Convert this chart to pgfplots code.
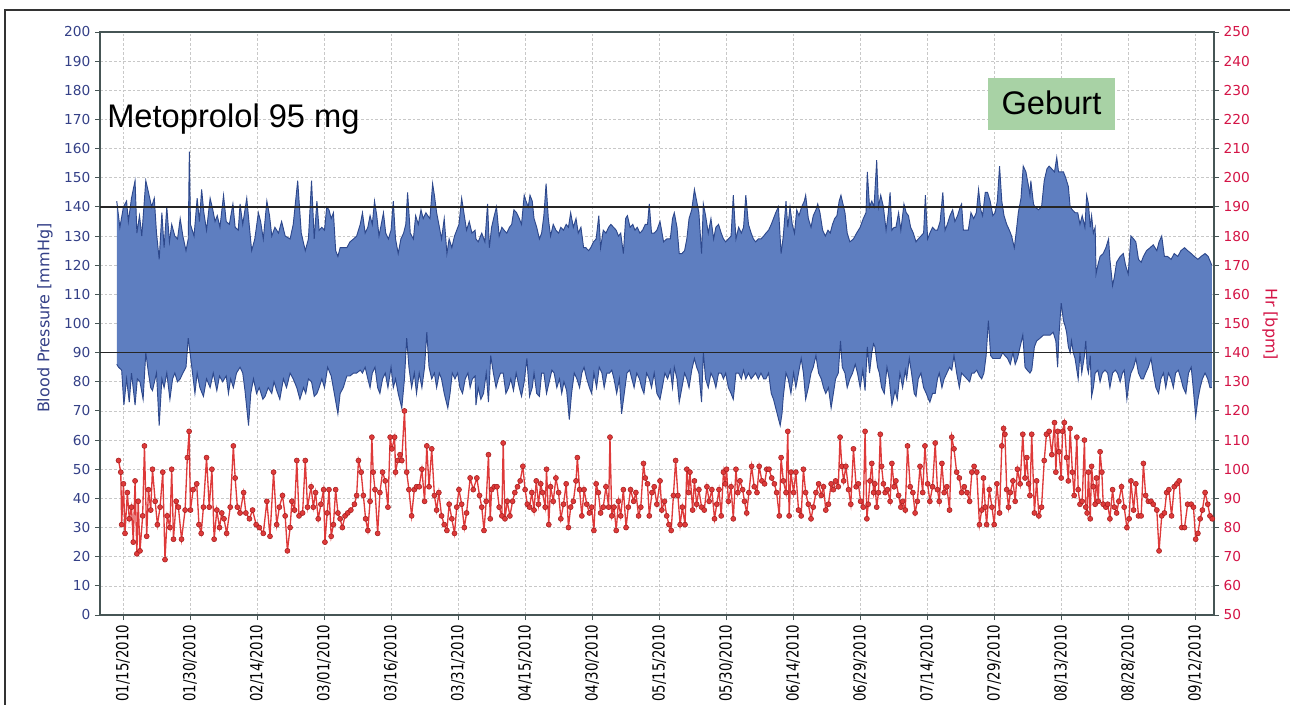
\documentclass[border=0pt]{standalone}
\usepackage{pgfplots}
\pgfplotsset{compat=1.18}
\usepgfplotslibrary{fillbetween}
\usepackage{fontspec}
\setmainfont{DejaVu Sans}
\newfontfamily\arialf{Liberation Sans}
\newfontfamily\xfont[FakeStretch=0.8]{DejaVu Sans}
\definecolor{bpfill}{RGB}{94,126,192}
\definecolor{bpline}{RGB}{45,72,140}
\definecolor{lefttick}{RGB}{52,64,135}
\definecolor{righttick}{RGB}{212,20,70}
\definecolor{hrred}{RGB}{222,58,58}
\definecolor{hrdark}{RGB}{165,30,30}
\definecolor{gridc}{RGB}{200,200,200}
\definecolor{axc}{RGB}{70,85,85}
\definecolor{geb}{RGB}{168,210,165}
\begin{document}
\begin{tikzpicture}
\begin{axis}[
 set layers,
 at={(75pt,66.75pt)}, anchor=south west,
 scale only axis, width=835.5pt, height=437.25pt,
 xmin=-5.15, xmax=244.2, ymin=0, ymax=200,
 xtick={0,15,...,240},
 xticklabels={01/15/2010,01/30/2010,02/14/2010,03/01/2010,03/16/2010,03/31/2010,04/15/2010,04/30/2010,05/15/2010,05/30/2010,06/14/2010,06/29/2010,07/14/2010,07/29/2010,08/13/2010,08/28/2010,09/12/2010},
 ytick={0,10,...,200},
 xtick pos=left, ytick pos=left,
 tick align=outside, major tick length=3.75pt,
 grid=major, major grid style={gridc, dash pattern=on 2pt off 1.5pt, line width=0.5pt},
 axis line style={axc, line width=0.9pt},
 tick style={axc, line width=0.7pt},
 /pgf/number format/assume math mode=true,
 yticklabel style={font=\fontsize{10.3}{12}\selectfont, text=lefttick},
 xticklabel style={font=\xfont\fontsize{12.5}{14}\selectfont, rotate=90, anchor=east, text=black},
 ylabel={Blood Pressure [mmHg]},
 every axis y label/.style={at={(axis description cs:-0.0494,0.509)}, rotate=90, anchor=center, font=\fontsize{12}{14}\selectfont, text=lefttick},
]
\addplot[name path=sys, bpline, line width=0.7pt] coordinates {
(-1.4,142) (-0.7,133) (0.1,140) (0.8,142) (1.2,135) (1.9,143) (2.7,149) (3.1,131) (3.7,137) (4.2,130) (5.1,149) (5.7,145) (6.4,140) (7.0,143) (7.5,131) (8.1,122) (8.7,138) (9.2,126) (9.8,140) (10.4,128) (10.9,134) (11.6,130) (12.2,129) (12.8,136) (13.4,130) (14.1,125) (14.6,129) (14.85,159) (15.1,134) (15.9,130) (16.6,143) (17.1,135) (17.6,146) (18.1,138) (18.7,132) (19.5,143) (20.1,139) (20.6,135) (21.1,137) (21.7,133) (22.5,144) (23.1,135) (23.8,134) (24.6,141) (25.1,133) (25.8,132) (26.2,141) (26.8,134) (27.7,143) (28.3,133) (28.8,125) (29.5,129) (30.3,138) (30.8,135) (31.4,129) (32.2,142) (32.8,137) (33.3,130) (34.0,133) (34.8,131) (35.5,135) (36.3,130) (37.4,129)
(38.1,134) (39.1,149) (39.9,131) (40.8,125) (41.5,129) (42.2,149) (42.8,129) (43.4,142) (43.9,132) (44.5,133) (45.1,132) (45.6,140) (46.1,139) (46.6,136) (47.1,138) (47.6,125) (48.1,123) (48.6,126) (49.3,126) (50.1,126) (50.8,128) (51.6,129) (52.3,130) (53.1,134) (53.6,138) (54.2,131) (54.8,133) (55.3,137) (55.8,134) (56.3,142) (56.8,137) (57.3,130) (57.8,134) (58.3,138) (58.8,131) (59.4,129) (60.0,132) (60.5,142) (61.0,129) (61.6,124) (62.2,129) (62.8,131) (63.3,134) (63.7,145) (64.3,131) (65.0,129) (65.5,137) (66.1,134) (66.7,139) (67.2,136) (67.8,138) (68.2,137) (68.7,136) (69.3,148) (69.7,144) (70.2,138) (70.7,134) (71.3,129) (71.9,136) (72.5,124) (73.0,129) (73.6,126) (74.2,130) (74.7,132) (75.2,134) (75.8,143) (76.4,137) (76.9,132) (77.5,135) (78.1,131) (78.8,132)
(79.0,129) (79.5,128) (80.3,131) (81.0,128) (81.6,141) (82.0,126) (82.5,133) (83.1,137) (83.6,140) (84.2,130) (84.8,133) (85.3,132) (85.9,131) (86.5,133) (87.0,134) (87.5,139) (88.1,138) (88.7,136) (89.2,134) (89.8,144) (90.2,142) (90.7,140) (91.1,144) (91.6,142) (92.0,136) (92.6,133) (93.2,129) (93.7,131) (94.2,137) (94.7,148) (95.2,136) (95.7,130) (96.3,134) (96.9,132) (97.5,131) (98.0,133) (98.6,132) (99.2,134) (99.7,133) (100.2,138) (100.8,133) (101.4,136) (101.9,131) (102.5,133) (103.1,126) (103.6,126) (104.2,125) (104.7,126) (105.3,128) (105.9,129) (106.5,137) (106.9,126) (107.5,132) (108.1,131) (108.7,133) (109.2,134) (109.8,133) (110.4,132) (110.9,130) (111.4,131) (112.0,124) (112.5,136) (112.9,137) (113.5,133) (114.1,134) (114.6,132) (115.1,133) (115.7,131) (116.3,132) (116.9,134) (117.4,134) (117.8,141) (118.3,131) (118.9,131) (119.5,132) (120.2,135)
(121.0,128) (121.7,129) (122.5,129) (123.0,136) (123.4,138) (124.0,133) (124.5,124) (125.1,124) (125.7,125) (126.2,129) (126.7,136) (127.3,139) (127.9,146) (128.4,142) (128.9,138) (129.5,124) (129.9,141) (130.4,137) (131.0,131) (131.6,136) (132.2,129) (132.7,133) (133.3,134) (133.9,131) (134.4,129) (134.9,128) (135.5,129) (136.1,130) (136.6,144) (137.2,129) (137.8,133) (138.4,131) (138.9,133) (139.4,144) (140.0,134) (140.6,131) (141.1,129) (141.6,128) (142.2,129) (142.8,129) (143.4,130) (143.9,131) (144.5,132) (145.1,134) (145.6,136) (146.1,138) (146.7,140) (147.3,124) (147.8,130) (148.4,142) (148.8,133) (149.3,140) (149.8,134) (150.3,131) (150.8,139) (151.3,137) (151.9,140) (152.5,142) (152.8,144) (153.4,136) (154.0,133) (154.5,137) (155.1,139) (155.5,141) (156.0,138) (156.6,132) (157.2,130) (157.8,132) (158.3,131) (158.8,134) (159.3,136) (159.8,137) (160.3,142) (160.7,144) (161.3,140) (161.6,138)
(162.1,131) (162.7,128) (163.5,129) (164.2,131) (165.0,133) (165.7,136) (166.3,138) (166.6,152) (167.1,140) (167.6,142) (168.1,140) (168.7,156) (169.1,140) (169.6,144) (170.2,140) (170.8,132) (171.3,138) (171.7,145) (172.1,132) (172.6,133) (173.0,133) (173.6,138) (174.1,132) (174.5,137) (174.8,141) (175.3,138) (175.8,137) (176.3,133) (176.9,131) (177.5,128) (178.0,129) (178.6,130) (179.2,131) (179.6,144) (180.1,129) (180.6,131) (181.2,133) (181.8,132) (182.3,132) (182.9,135) (183.5,145) (184.0,132) (184.5,134) (185.1,137) (185.7,139) (186.2,135) (186.8,137) (187.4,140) (187.7,141) (188.1,132) (188.7,132) (189.2,132) (189.8,138) (190.4,136) (191.0,138) (191.5,146) (192.0,139) (192.4,137) (193.0,145) (193.5,145) (194.1,142) (194.7,137) (195.2,138) (195.7,142) (196.2,154) (196.7,142) (197.2,137) (197.8,134) (198.4,132) (198.9,130) (199.5,126) (199.9,131) (200.4,138) (201.0,143) (201.5,154) (202.1,152) (202.7,147) (203.0,144)
(203.2,149) (203.8,141) (204.1,140) (204.9,139) (205.6,140) (206.2,149) (206.8,153) (207.3,154) (207.9,153) (208.5,152) (209.0,157) (209.4,152) (210.0,152) (210.5,152) (211.0,150) (211.6,147) (212.0,140) (212.5,139) (213.1,138) (213.7,138) (214.2,134) (214.7,137) (215.3,133) (215.7,144) (216.1,141) (216.5,133) (216.8,137) (217.2,131) (217.6,133) (217.8,117) (218.2,120) (218.7,123) (219.4,124) (220.0,126) (220.6,129) (220.9,122) (221.5,113) (221.9,116) (222.4,121) (223.2,123) (223.9,124) (224.4,120) (225.0,117) (225.6,130) (226.2,129) (226.7,128) (227.3,122) (227.9,121) (228.4,123) (229.1,125) (229.9,126) (230.6,127) (231.4,125) (231.9,128) (232.5,130) (233.1,123) (233.8,123) (234.6,122) (235.3,124) (236.1,123) (236.8,125) (237.6,126) (238.3,125) (239.1,124) (239.8,123) (240.6,122) (241.3,123) (242.2,124) (242.9,123) (243.7,120)
};
\addplot[name path=dia, bpline, line width=0.7pt] coordinates {
(-1.4,86) (-1.0,85) (-0.3,84) (0.2,72) (0.8,81) (1.4,73) (1.9,83) (2.7,72) (3.2,81) (3.8,80) (4.5,74) (5.1,90) (5.7,83) (6.2,78) (6.6,77) (7.5,83) (8.1,65) (8.7,81) (9.2,78) (9.8,83) (10.5,74) (11.1,81) (11.6,83) (12.2,80) (12.8,81) (13.4,83) (14.1,85) (14.6,95) (15.4,85) (16.1,76) (16.6,83) (17.2,78) (18.0,75) (18.7,81) (19.5,78) (20.2,83) (21.0,77) (21.6,82) (22.3,80) (23.1,82) (23.6,76) (24.1,81) (24.7,78) (25.4,83) (26.2,85) (26.8,83) (27.3,77) (28.1,65) (28.6,76) (29.2,81) (29.9,76) (30.5,78) (31.3,74) (31.8,75) (32.5,78) (33.3,76) (33.8,80) (34.4,77) (35.1,74) (35.9,81) (36.6,78) (37.4,83)
(38.1,81) (38.9,78) (39.6,74) (40.4,78) (40.9,76) (41.5,81) (42.2,80) (42.8,75) (43.4,76) (43.9,78) (44.5,81) (45.1,78) (45.8,85) (46.6,82) (47.3,76) (48.1,69) (48.6,76) (49.3,78) (50.1,82) (50.8,82) (51.6,83) (52.3,83) (53.1,84) (53.6,83) (54.2,85) (54.8,81) (55.3,78) (55.8,83) (56.4,85) (57.0,78) (57.5,76) (58.1,81) (58.7,83) (59.3,78) (60.0,85) (60.5,78) (61.0,81) (61.6,76) (62.4,71) (63.0,81) (63.5,95) (64.0,85) (64.6,78) (65.2,83) (65.7,76) (66.3,83) (66.9,78) (67.5,85) (68.0,97) (68.5,85) (69.1,81) (69.7,83) (70.2,78) (70.8,83) (71.3,81) (71.9,76) (72.7,71) (73.2,76) (73.7,83) (74.3,81) (74.9,83) (75.4,78) (76.0,76) (76.6,81) (77.2,83) (77.7,78) (78.2,81) (78.8,82)
(79.0,72) (79.5,78) (80.1,74) (80.7,76) (81.3,83) (81.8,73) (82.3,89) (82.9,83) (83.5,78) (84.0,81) (84.5,83) (85.1,83) (85.7,76) (86.3,78) (86.8,81) (87.4,77) (88.0,83) (88.7,78) (89.2,75) (89.8,80) (90.4,88) (91.0,75) (91.6,78) (92.0,83) (92.6,76) (93.2,75) (93.7,83) (94.2,83) (94.8,76) (95.4,80) (96.0,84) (96.5,83) (97.1,78) (97.7,81) (98.2,76) (98.7,80) (99.3,77) (99.9,67) (100.4,76) (101.0,83) (101.6,81) (102.2,78) (102.7,83) (103.2,85) (103.8,81) (104.4,78) (104.9,76) (105.4,83) (106.0,78) (106.6,85) (107.2,83) (107.7,78) (108.3,83) (108.9,83) (109.4,84) (109.9,81) (110.5,76) (111.1,81) (111.6,69) (112.2,76) (112.8,83) (113.4,84) (113.9,81) (114.4,78) (115.0,83) (115.6,81) (116.1,78) (116.6,76) (117.2,83) (117.8,81) (118.3,78) (118.9,83) (119.5,76) (120.2,74)
(120.7,78) (121.3,83) (121.9,81) (122.5,84) (123.0,78) (123.4,85) (124.0,81) (124.5,73) (125.1,78) (125.7,83) (126.2,81) (126.7,78) (127.3,84) (127.9,88) (128.4,85) (128.9,83) (129.5,73) (129.9,90) (130.4,81) (131.0,78) (131.6,83) (132.2,81) (132.7,78) (133.3,83) (133.9,83) (134.4,81) (134.9,83) (135.5,78) (136.1,76) (136.6,74) (137.2,83) (137.8,83) (138.4,81) (138.9,84) (139.4,81) (140.0,83) (140.6,81) (141.1,82) (141.6,83) (142.2,81) (142.8,83) (143.4,81) (143.9,81) (144.5,83) (145.1,76) (145.6,74) (146.1,71) (146.6,68) (147.1,65) (147.5,69) (147.8,75) (148.4,83) (148.9,81) (149.5,76) (150.1,83) (150.6,78) (151.2,83) (151.8,88) (152.3,83) (152.8,74) (153.4,78) (154.0,83) (154.5,85) (155.1,89) (155.7,83) (156.3,81) (156.8,78) (157.3,76) (157.9,78) (158.5,71) (159.0,76) (159.5,81) (160.1,83) (160.6,94) (161.0,85) (161.6,83)
(162.1,78) (162.7,81) (163.3,83) (163.9,86) (164.4,83) (165.0,78) (165.6,84) (166.1,77) (166.6,92) (167.1,83) (167.6,90) (168.0,93) (168.3,92) (168.9,85) (169.3,83) (169.8,78) (170.4,76) (171.0,85) (171.5,81) (172.1,72) (172.4,74) (172.8,77) (173.3,74) (173.9,83) (174.5,78) (175.1,84) (175.4,81) (176.0,88) (176.5,83) (177.1,76) (177.5,75) (178.0,81) (178.6,83) (179.2,78) (179.8,76) (180.3,74) (180.6,73) (181.2,76) (181.8,76) (182.3,81) (182.7,83) (183.3,78) (183.8,81) (184.4,83) (185.0,85) (185.5,84) (186.0,89) (186.6,83) (187.2,78) (187.7,83) (188.3,82) (188.9,81) (189.5,80) (190.0,83) (190.5,83) (191.1,84) (191.7,82) (192.2,81) (192.7,83) (193.2,89) (193.7,101) (194.2,89) (194.7,88) (195.2,88) (195.7,88) (196.3,88) (196.9,90) (197.4,89) (198.0,88) (198.6,86) (199.2,90) (199.7,86) (200.2,88) (200.8,92) (201.4,96) (201.9,85) (202.4,84) (203.0,83)
(203.4,84) (204.0,92) (204.5,94) (205.3,95) (206.0,96) (206.8,96) (207.5,96) (208.2,97) (208.8,94) (209.2,85) (209.5,96) (210.0,107) (210.5,101) (210.9,99) (211.2,97) (211.6,92) (212.0,90) (212.3,94) (212.7,90) (213.1,88) (213.5,84) (213.8,81) (214.2,90) (214.6,83) (215.2,89) (215.5,94) (215.8,85) (216.1,83) (216.5,89) (216.8,75) (217.2,78) (217.6,83) (218.2,84) (218.7,80) (219.2,83) (219.8,84) (220.4,83) (220.9,78) (221.5,83) (222.1,84) (222.6,83) (223.2,80) (223.7,83) (224.1,84) (224.7,74) (225.2,80) (225.6,83) (226.2,85) (226.7,88) (227.3,83) (227.9,81) (228.4,81) (228.9,83) (229.5,85) (230.1,88) (230.6,83) (231.2,78) (231.8,76) (232.3,81) (232.9,83) (233.4,78) (234.0,83) (234.6,81) (235.1,78) (235.6,83) (236.2,84) (236.8,81) (237.3,78) (237.9,76) (238.5,83) (239.1,85) (239.6,77) (240.1,68) (240.6,74) (241.1,78) (241.6,81) (242.2,83) (242.8,81) (243.3,78) (243.7,78)
};
\addplot[bpfill] fill between[of=sys and dia];
\addplot[black!85, line width=1pt, forget plot] coordinates {(-5.15,140) (244.2,140)};
\addplot[black!85, line width=1pt, forget plot] coordinates {(-5.15,90) (244.2,90)};
\end{axis}
\begin{axis}[
 at={(75pt,66.75pt)}, anchor=south west,
 scale only axis, width=835.5pt, height=437.25pt,
 xmin=-5.15, xmax=244.2, ymin=50, ymax=250,
 hide x axis,
 axis y line*=right,
 ytick={50,60,...,250},
 tick align=outside, major tick length=3.75pt,
 axis line style={axc, line width=0.9pt},
 tick style={axc, line width=0.7pt},
 /pgf/number format/assume math mode=true,
 yticklabel style={font=\fontsize{10.3}{12}\selectfont, text=righttick},
 ylabel={Hr [bpm]},
 every axis y label/.style={at={(axis description cs:1.0503,0.499)}, rotate=-90, anchor=center, font=\fontsize{12}{14}\selectfont, text=righttick},
]
\addplot[hrred, line width=1pt, mark=*, mark size=1.9pt, mark options={fill=hrred, draw=hrdark, line width=0.4pt}] coordinates {
(-1.0,103) (-0.5,99) (-0.3,81) (0.1,95) (0.45,78) (0.97,92) (1.4,83) (1.9,87) (2.3,75) (2.7,96) (3.1,71) (3.4,89) (3.8,72) (4.4,84) (4.8,108) (5.3,77) (5.7,93) (6.2,86) (6.6,100) (7.2,89) (7.7,81) (8.3,87) (8.9,99) (9.4,69) (9.9,84) (10.5,80) (10.9,100) (11.3,76) (11.9,89) (12.4,87) (13.1,76) (13.9,86) (14.4,104) (14.8,113) (15.1,86) (15.7,93) (16.5,95) (17.0,81) (17.5,78) (18.0,87) (18.7,104) (19.3,87) (19.9,100) (20.4,76) (21.0,86) (21.6,80) (22.1,85) (22.6,83) (23.2,78) (24.0,87) (24.7,108) (25.1,97) (25.6,87) (26.2,85) (27.0,92) (27.5,85) (28.3,83) (29.0,86) (29.8,81) (30.5,80) (31.4,78) (32.2,89) (32.9,77) (33.7,99) (34.4,81) (35.0,87) (35.7,91) (36.3,84) (36.8,72) (37.4,80)
(37.8,89) (38.4,86) (38.9,103) (39.4,84) (40.2,85) (40.8,103) (41.3,87) (42.1,94) (42.6,87) (43.1,92) (43.7,83) (44.3,88) (44.9,93) (45.2,75) (45.7,85) (46.1,93) (46.6,77) (47.1,81) (47.6,93) (48.1,85) (48.6,83) (49.1,80) (49.7,84) (50.3,85) (51.0,86) (51.8,88) (52.3,91) (52.7,103) (53.3,99) (53.8,91) (54.3,83) (54.8,79) (55.3,89) (55.7,111) (56.0,99) (56.4,93) (57.0,78) (57.5,92) (58.1,99) (58.7,96) (59.3,87) (59.8,111) (60.2,107) (60.8,111) (61.0,99) (61.5,103) (62.0,105) (62.4,103) (63.0,120) (63.5,99) (64.0,93) (64.6,84) (65.2,93) (65.7,94) (66.3,94) (66.9,100) (67.5,89) (68.0,108) (68.5,94) (69.1,107) (69.7,91) (70.2,86) (70.7,92) (71.3,84) (71.9,81) (72.5,79) (73.0,88) (73.6,83) (74.2,78) (74.7,87) (75.2,93) (75.8,88) (76.4,80) (76.9,85) (77.7,97) (78.4,93)
(79.2,97) (79.8,91) (80.3,87) (80.8,79) (81.3,89) (81.8,105) (82.2,83) (82.5,93) (83.1,94) (83.7,94) (84.2,87) (84.8,84) (85.1,109) (85.5,83) (86.0,89) (86.6,84) (87.2,89) (87.7,92) (88.3,94) (88.9,96) (89.5,101) (90.0,93) (90.5,88) (91.0,87) (91.5,92) (92.0,86) (92.5,96) (93.0,88) (93.5,95) (93.9,92) (94.5,87) (94.8,100) (95.3,81) (95.7,94) (96.3,89) (96.9,97) (97.5,92) (98.0,83) (98.6,88) (99.2,95) (99.7,80) (100.2,87) (100.8,89) (101.4,96) (101.7,104) (102.2,93) (102.7,84) (103.2,93) (103.8,88) (104.4,85) (104.9,87) (105.4,79) (105.9,95) (106.4,92) (106.9,85) (107.5,87) (108.1,94) (108.7,87) (109.0,111) (109.4,84) (109.9,87) (110.4,79) (110.9,89) (111.4,84) (112.0,93) (112.6,80) (113.1,87) (113.6,93) (114.3,89) (114.8,92) (115.4,84) (115.9,87) (116.5,102) (116.9,97) (117.4,95) (117.8,84) (118.4,92) (118.9,94) (119.5,88) (120.2,96)
(120.6,86) (121.2,89) (121.7,84) (122.2,81) (122.7,79) (123.2,91) (123.7,103) (124.2,91) (124.7,81) (125.2,87) (125.8,81) (126.2,100) (126.6,92) (126.9,99) (127.5,86) (127.9,96) (128.4,88) (128.9,93) (129.5,87) (130.1,86) (130.7,94) (131.2,89) (131.8,93) (132.4,83) (132.9,88) (133.4,93) (133.9,84) (134.4,99) (134.8,95) (135.1,100) (135.5,89) (136.1,94) (136.6,83) (137.2,100) (137.6,92) (138.1,96) (138.7,93) (139.1,89) (139.6,85) (140.1,92) (140.7,101) (141.3,94) (141.9,92) (142.4,101) (143.0,96) (143.6,95) (144.1,100) (144.6,100) (145.2,97) (145.8,95) (146.3,92) (146.9,84) (147.3,104) (147.8,96) (148.4,92) (148.8,113) (149.1,84) (149.5,99) (150.1,92) (150.6,99) (151.2,86) (151.8,84) (152.3,100) (152.8,92) (153.4,88) (154.0,83) (154.5,87) (155.1,92) (155.7,95) (156.3,91) (156.8,94) (157.3,86) (157.9,88) (158.5,95) (159.0,93) (159.5,96) (160.1,94) (160.5,111) (160.9,101) (161.3,96)
(161.8,101) (162.4,93) (162.9,88) (163.5,107) (164.1,94) (164.6,95) (165.1,89) (165.7,87) (166.1,113) (166.5,83) (166.8,88) (167.2,96) (167.6,102) (168.0,92) (168.3,95) (168.7,87) (169.1,92) (169.5,112) (169.8,101) (170.2,95) (170.6,92) (171.1,93) (171.7,89) (172.1,102) (172.6,94) (173.0,96) (173.6,91) (174.1,87) (174.5,89) (175.1,86) (175.6,108) (176.2,94) (176.8,92) (177.3,85) (177.8,89) (178.4,101) (179.0,92) (179.5,108) (180.1,95) (180.6,89) (181.2,94) (181.8,109) (182.3,93) (182.7,89) (183.3,102) (183.8,92) (184.4,94) (185.0,86) (185.5,111) (186.0,107) (186.6,99) (187.2,97) (187.7,92) (188.3,94) (188.9,92) (189.5,89) (190.0,99) (190.5,101) (191.1,99) (191.7,81) (192.2,86) (192.6,97) (193.0,87) (193.3,81) (193.9,93) (194.5,87) (195.0,81) (195.6,95) (196.2,85) (196.7,108) (197.1,114) (197.4,112) (197.8,93) (198.2,87) (198.6,92) (199.2,96) (199.7,89) (200.2,100) (200.8,95) (201.4,112) (201.9,97) (202.3,104) (202.7,95) (203.0,91)
(203.4,112) (204.0,85) (204.5,96) (205.0,84) (205.6,87) (206.2,103) (206.7,112) (207.3,113) (207.9,105) (208.5,116) (208.8,99) (209.2,113) (209.5,106) (210.0,97) (210.3,113) (210.7,116) (211.2,104) (211.6,96) (212.0,114) (212.5,99) (212.9,91) (213.5,111) (213.8,93) (214.2,88) (214.7,89) (215.2,110) (215.5,87) (215.8,85) (216.1,99) (216.5,83) (216.8,101) (217.2,94) (217.6,88) (217.9,97) (218.3,89) (218.7,106) (219.1,99) (219.4,88) (220.0,87) (220.4,88) (220.9,83) (221.5,93) (221.9,87) (222.4,85) (222.9,89) (223.5,94) (224.1,87) (224.7,80) (225.2,83) (225.6,96) (226.2,86) (226.7,95) (227.3,84) (227.9,84) (228.4,102) (228.9,91) (229.5,89) (230.1,89) (230.6,88) (231.4,86) (231.9,72) (232.5,84) (233.1,85) (233.6,92) (234.1,93) (234.7,84) (235.3,94) (235.9,95) (236.4,96) (237.0,80) (237.6,80) (238.3,88) (239.1,88) (239.6,87) (240.1,76) (240.6,78) (241.1,83) (241.6,86) (242.2,92) (242.8,88) (243.3,84) (243.8,83)
};
\end{axis}
\node[anchor=base west, font=\arialf\fontsize{24.5}{28}\selectfont, inner sep=0pt] at (80.25pt,432pt) {Metoprolol 95 mg};
\fill[geb] (741pt,430.5pt) rectangle (836.25pt,469.5pt);
\node[anchor=base, font=\arialf\fontsize{24.5}{28}\selectfont, inner sep=0pt] at (788.6pt,441.75pt) {Geburt};
\draw[black!80, line width=0.8pt] (3.75pt,-20pt) rectangle (1000pt,520.5pt);
\pgfresetboundingbox
\useasboundingbox (0pt,0pt) rectangle (967.5pt,528pt);
\end{tikzpicture}
\end{document}
